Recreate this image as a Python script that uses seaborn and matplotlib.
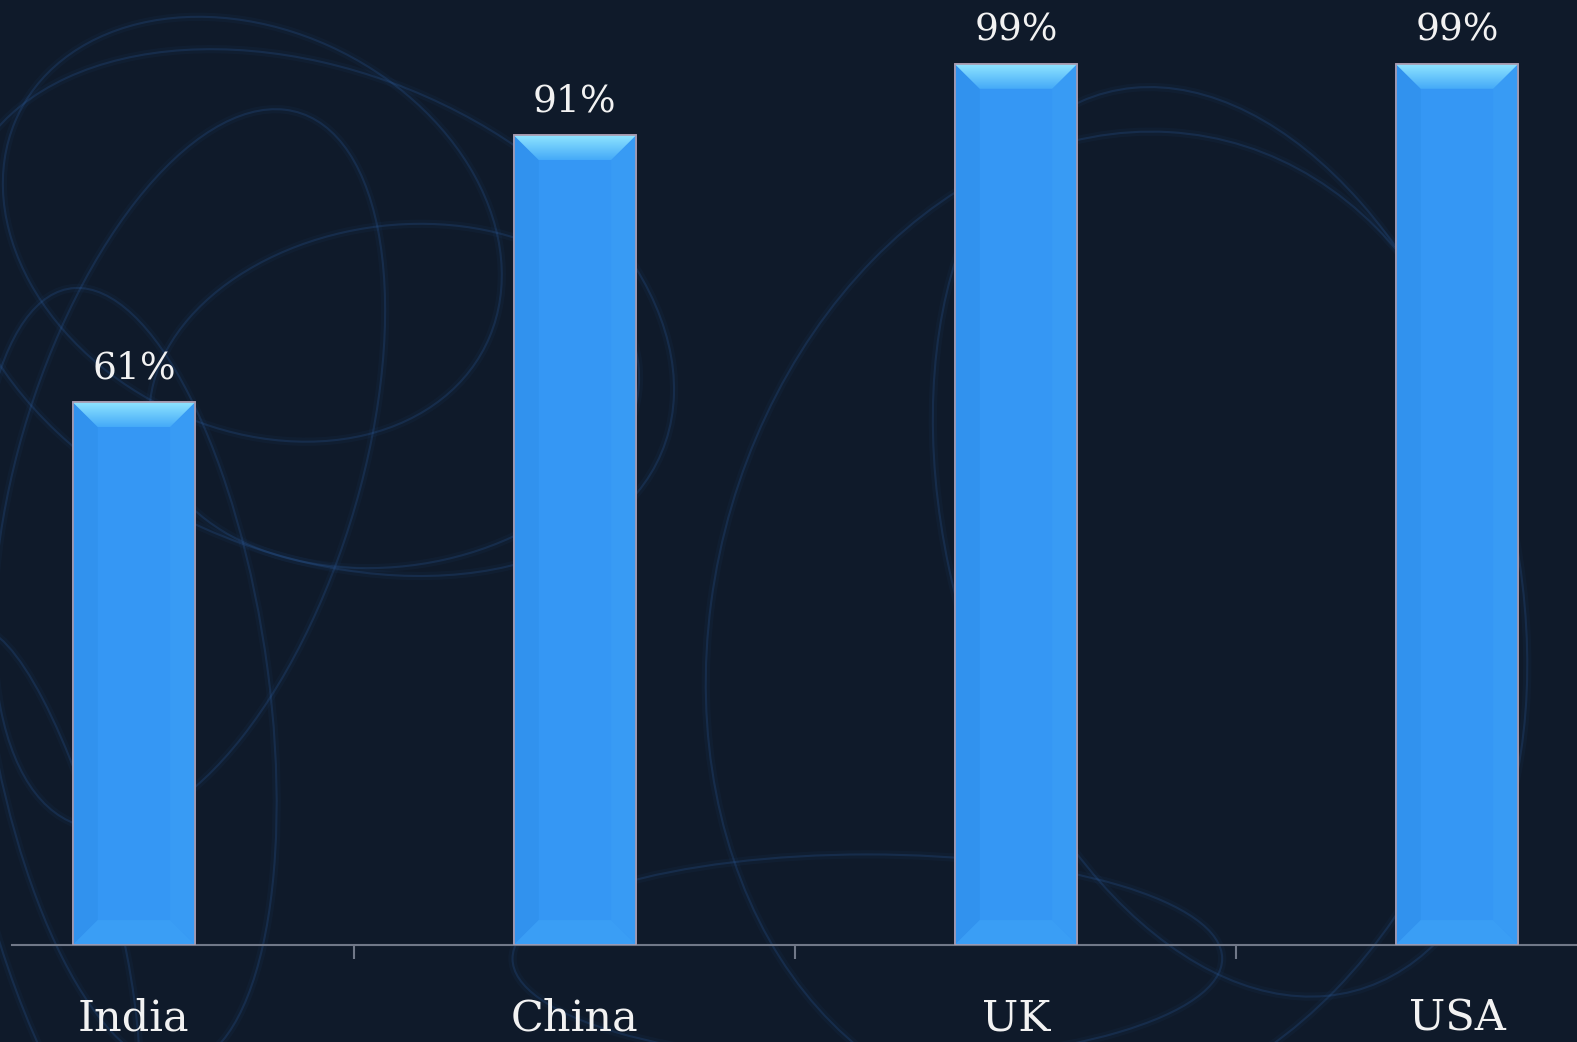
import numpy as np
import matplotlib.pyplot as plt
import seaborn as sns
from matplotlib.patches import Polygon, Ellipse
from matplotlib.colors import LinearSegmentedColormap

# data
countries = ["India", "China", "UK", "USA"]
share = [61, 91, 99, 99]
share_labels = ["61%", "91%", "99%", "99%"]

bg = "#0f1a2a"
bar_blue = "#3597f4"

sns.set_theme(style="dark")
plt.rcParams['font.family'] = ['DejaVu Serif', 'DejaVu Sans']

fig = plt.figure(figsize=(15.77, 10.42), dpi=100, facecolor=bg)

# faint swirls in the background, only decoration
swirls = [
    (0.16, 0.78, 0.30, 0.42, 20), (0.20, 0.70, 0.40, 0.55, 35),
    (0.12, 0.55, 0.22, 0.70, -10), (0.25, 0.62, 0.34, 0.30, 60),
    (0.08, 0.35, 0.18, 0.75, 5), (0.78, 0.48, 0.36, 0.88, 8),
    (0.70, 0.40, 0.50, 0.95, -5), (0.55, 0.08, 0.45, 0.20, 0),
    (0.03, 0.15, 0.08, 0.50, 10),
]
for cx, cy, w, h, ang in swirls:
    for lw, a in [(6, 0.06), (1.5, 0.22)]:
        fig.add_artist(Ellipse((cx, cy), w, h, angle=ang, fill=False,
                               edgecolor="#2f62a8", alpha=a, lw=lw,
                               transform=fig.transFigure, zorder=0))

# axes wider than the figure: the outer slots are cut off like in the reference
ax = fig.add_axes([-0.0549, 0.0931, 1.1186, 0.8541])
ax.set_facecolor("none")

sns.barplot(x=countries, y=share, color=bar_blue, width=0.278,
            saturation=1, edgecolor="#a99aae", linewidth=1.2, ax=ax, zorder=2)

top_cmap = LinearSegmentedColormap.from_list("top", ["#45aaf8", "#8ee4ff"])
dx = 0.057   # bevel depth in x data units
dy = 2.8     # bevel depth in y data units
for p in ax.patches:
    x0, w, h = p.get_x(), p.get_width(), p.get_height()
    x1 = x0 + w
    # left and right bevel faces
    ax.add_patch(Polygon([(x0, 0), (x0 + dx, dy), (x0 + dx, h - dy), (x0, h)],
                         closed=True, facecolor="#3192ee", lw=0, zorder=3))
    ax.add_patch(Polygon([(x1, 0), (x1 - dx, dy), (x1 - dx, h - dy), (x1, h)],
                         closed=True, facecolor="#389bf4", lw=0, zorder=3))
    # bottom face
    ax.add_patch(Polygon([(x0, 0), (x1, 0), (x1 - dx, dy), (x0 + dx, dy)],
                         closed=True, facecolor="#3a9ef5", lw=0, zorder=3))
    # top face with a gradient
    top = Polygon([(x0, h), (x1, h), (x1 - dx, h - dy), (x0 + dx, h - dy)],
                  closed=True, facecolor="none", lw=0, zorder=3)
    ax.add_patch(top)
    grad = np.linspace(0, 1, 64).reshape(-1, 1)
    im = ax.imshow(grad, extent=[x0, x1, h - dy, h], origin="lower",
                   cmap=top_cmap, aspect="auto", zorder=4)
    im.set_clip_path(top)
    # redraw the thin outline on top
    ax.add_patch(plt.Rectangle((x0, 0), w, h, fill=False,
                               edgecolor="#a99aae", lw=1.2, zorder=5))

ax.bar_label(ax.containers[0], labels=share_labels, padding=11,
             color="#f2f2f2", fontsize=27)

ax.set_xlim(-0.5, 3.5)
ax.set_ylim(0, 100)
ax.set_ylabel("")
ax.set_yticks([])
ax.grid(False)

for s in ["top", "right", "left"]:
    ax.spines[s].set_visible(False)
ax.spines["bottom"].set_color("#707888")
ax.spines["bottom"].set_linewidth(1.5)
ax.spines["bottom"].set_bounds(-0.277, 3.5)

ax.tick_params(axis="x", which="major", length=0, pad=38,
               labelsize=31, labelcolor="#f2f2f2")
ax.set_xticks([0.5, 1.5, 2.5], minor=True)
ax.tick_params(axis="x", which="minor", length=10, width=1.5,
               color="#707888", direction="out", bottom=True)

fig.savefig("out.png", dpi=100, facecolor=bg)
